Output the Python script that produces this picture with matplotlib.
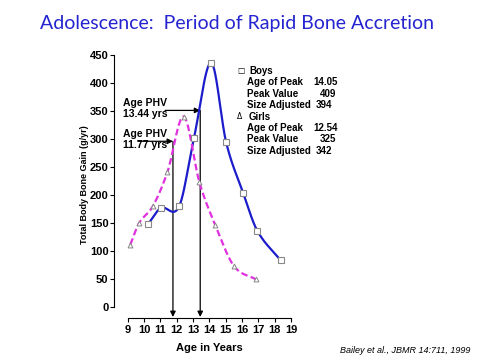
"""Adolescent bone accretion chart (Bailey et al., 1999)."""

import matplotlib
matplotlib.use("Agg")

import matplotlib.pyplot as plt
import numpy as np

boys_age = [10.26, 11.02, 12.15, 13.05, 14.11, 15.03, 16.07, 16.93, 18.36]
boys_gain = [149, 177, 180, 301, 436, 294, 204, 137, 84]
girls_age = [9.16, 9.69, 10.53, 11.43, 12.43, 13.39, 14.36, 15.50, 16.85]
girls_gain = [112, 150, 180, 241, 340, 223, 147, 74, 50]

phv_ages = [11.77, 13.44]
phv_start = [296, 351]

legend_symbols = ["\u25a1", "", "", "", "\u0394", "", "", ""]
legend_labels = ["Boys", "Age of Peak", "Peak Value", "Size Adjusted",
                 "Girls", "Age of Peak", "Peak Value", "Size Adjusted"]
legend_values = ["", "14.05", "409", "394", "", "12.54", "325", "342"]

COLORS = {"boys": "#1c1ccc", "girls": "#e030e0", "title": "#2424d0",
          "marker": "#888888"}

plt.rcParams.update({
    "font.family": ["Liberation Sans", "DejaVu Sans"],
    "font.size": 8,
    "font.weight": "bold",
    "axes.labelweight": "bold",
})


def smooth_curve(x, y, per_seg=40):
    """Catmull-Rom style cubic Hermite through the points (drawing only)."""
    x = np.asarray(x, float)
    y = np.asarray(y, float)
    k = len(x)
    m = np.empty(k)
    m[0] = (y[1] - y[0]) / (x[1] - x[0])
    m[-1] = (y[-1] - y[-2]) / (x[-1] - x[-2])
    m[1:-1] = (y[2:] - y[:-2]) / (x[2:] - x[:-2])
    xs, ys = [], []
    for i in range(k - 1):
        h = x[i + 1] - x[i]
        t = np.linspace(0, 1, per_seg, endpoint=(i == k - 2))
        h00 = 2 * t ** 3 - 3 * t ** 2 + 1
        h10 = t ** 3 - 2 * t ** 2 + t
        h01 = -2 * t ** 3 + 3 * t ** 2
        h11 = t ** 3 - t ** 2
        xs.append(x[i] + t * h)
        ys.append(h00 * y[i] + h10 * h * m[i] + h01 * y[i + 1] + h11 * h * m[i + 1])
    return np.concatenate(xs), np.concatenate(ys)


fig = plt.figure(figsize=(4.81, 3.6), dpi=100)
fig.text(0.492, 0.936, "Adolescence:  Period of Rapid Bone Accretion",
         ha="center", va="center", fontsize=14, color=COLORS["title"],
         family=["Lato", "DejaVu Sans"], fontweight="normal")

ax = fig.add_axes([0.237, 0.1167, 0.368, 0.731])
ax.set_xlim(8.16, 19)
ax.set_ylim(-18.75, 450)

xs, ys = smooth_curve(boys_age, boys_gain)
ax.plot(xs, ys, color=COLORS["boys"], linewidth=1.6, zorder=3)
ax.plot(boys_age, boys_gain, linestyle="none", marker="s", markersize=4,
        markerfacecolor="white", markeredgecolor=COLORS["marker"],
        markeredgewidth=0.8, zorder=4)

xs, ys = smooth_curve(girls_age, girls_gain)
ax.plot(xs, ys, color=COLORS["girls"], linewidth=1.6, linestyle=(0, (3, 1.5)),
        zorder=3)
ax.plot(girls_age, girls_gain, linestyle="none", marker="^", markersize=3.5,
        markerfacecolor="white", markeredgecolor=COLORS["marker"],
        markeredgewidth=0.7, zorder=4)

# PHV arrows
for age, start in zip(phv_ages, phv_start):
    ax.annotate("", xy=(age, -17), xytext=(age, start),
                arrowprops=dict(arrowstyle="-|>", color="black", lw=0.9,
                                mutation_scale=8, shrinkA=0, shrinkB=0),
                annotation_clip=False, zorder=2)
    ax.annotate("", xy=(age, start), xytext=(age - 2.15, start),
                arrowprops=dict(arrowstyle="-|>", color="black", lw=0.9,
                                mutation_scale=8, shrinkA=0, shrinkB=0),
                zorder=2)
    ax.text(8.7, start + 3, f"Age PHV\n{age:.2f} yrs", ha="left",
            va="center", fontsize=7.5, linespacing=1.15)

# legend block
value_x = [0, 313, 320, 316, 0, 313, 320, 316]
for i, label in enumerate(legend_labels):
    yf = 1 - (71 + i * 11.4) / 360
    sym = legend_symbols[i]
    if sym:
        fig.text(237 / 481, yf, sym, va="center", ha="left", fontsize=5.5,
                 fontweight="normal", family=["DejaVu Sans"])
    fig.text((249 if sym else 247) / 481, yf, label,
             va="center", ha="left", fontsize=7)
    if legend_values[i]:
        fig.text(value_x[i] / 481, yf, legend_values[i],
                 va="center", ha="left", fontsize=7)

ax.spines["top"].set_visible(False)
ax.spines["right"].set_visible(False)
ax.spines["left"].set_bounds(0, 450)
ax.spines["bottom"].set_bounds(9, 19)
ax.set_xticks(range(9, 20))
ax.set_yticks(range(0, 451, 50))
ax.tick_params(length=3, width=0.8, pad=1, labelsize=8)
ax.tick_params(axis="x", pad=2)
ax.set_ylabel("Total Body Bone Gain (g/yr)", fontsize=6.5)
ax.yaxis.set_label_coords(-0.14, 0.505)
ax.set_xlabel("Age in Years", fontsize=8)
ax.xaxis.set_label_coords(0.54, -0.095)

fig.text(0.977, 0.026, "Bailey et al., JBMR 14:711, 1999", ha="right",
         va="center", fontsize=6.5, fontstyle="italic", fontweight="normal")

fig.savefig("out.png", dpi=100)
